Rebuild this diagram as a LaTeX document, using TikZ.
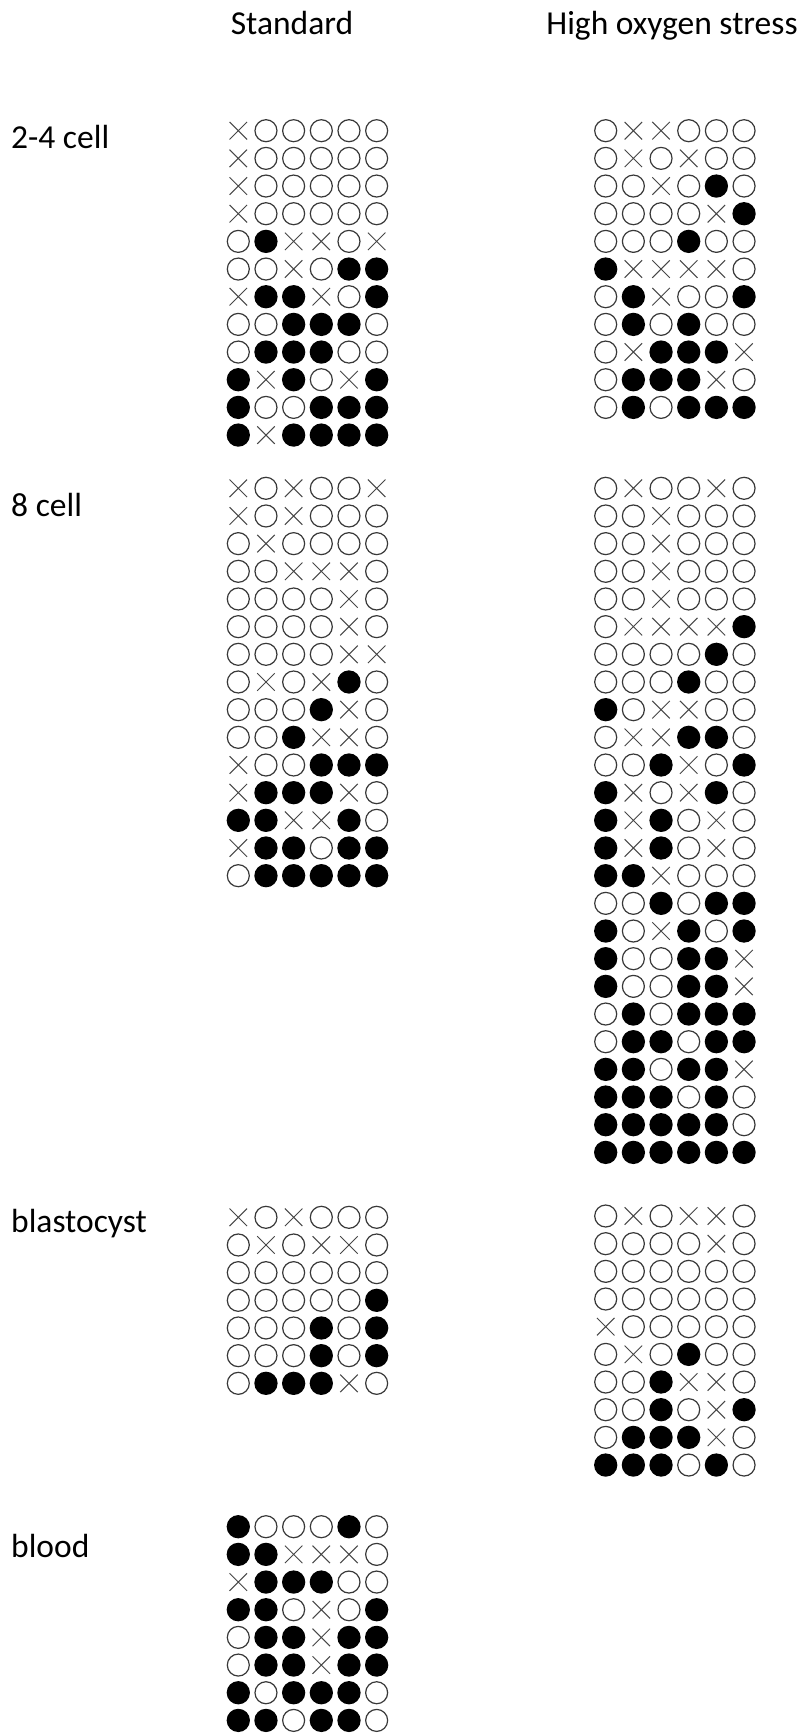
\documentclass[tikz,border=0pt]{standalone}
\usepackage{fontspec}
\setmainfont{Carlito}
\usetikzlibrary{shapes.misc}
\newcommand\symgrid[4]{%
  \foreach \rw [count=\ri] in {#4} {
    \foreach \c [count=\ki] in \rw {
      \node[c\c] (#1-\ri-\ki) at ({#2+(\ki-1)*27.67},{#3+(\ri-1)*27.67}) {};
    }
  }
}
\begin{document}
\begin{tikzpicture}[x=1pt,y=-1pt,
  co/.style={circle,draw=black!78,line width=1.2pt,minimum size=22pt,inner sep=0pt},
  cf/.style={circle,fill=black,minimum size=23.3pt,inner sep=0pt},
  cx/.style={cross out,draw=black!72,line width=1pt,minimum size=16.5pt,inner sep=0pt},
  lbl/.style={font=\fontsize{33.5}{40}\selectfont,inner sep=0pt}]
\useasboundingbox[fill=white] (0,0) rectangle (800,1734);
\node[lbl,anchor=base] (hstd) at (292,35) {Standard};
\node[lbl,anchor=base] (hhos) at (672,35) {High oxygen stress};
\node[lbl,anchor=base west] (l24) at (11,148.3) {2-4 cell};
\node[lbl,anchor=base west] (l8) at (11,516.7) {8 cell};
\node[lbl,anchor=base west] (lbc) at (11,1232.3) {blastocyst};
\node[lbl,anchor=base west] (lbd) at (11,1557.3) {blood};
\symgrid{a}{238.3}{130.7}{{x,o,o,o,o,o},{x,o,o,o,o,o},{x,o,o,o,o,o},{x,o,o,o,o,o},{o,f,x,x,o,x},{o,o,x,o,f,f},{x,f,f,x,o,f},{o,o,f,f,f,o},{o,f,f,f,o,o},{f,x,f,o,x,f},{f,o,o,f,f,f},{f,x,f,f,f,f}}
\symgrid{b}{605.7}{130.7}{{o,x,x,o,o,o},{o,x,o,x,o,o},{o,o,x,o,f,o},{o,o,o,o,x,f},{o,o,o,f,o,o},{f,x,x,x,x,o},{o,f,x,o,o,f},{o,f,o,f,o,o},{o,x,f,f,f,x},{o,f,f,f,x,o},{o,f,o,f,f,f}}
\symgrid{c}{238.3}{488.3}{{x,o,x,o,o,x},{x,o,x,o,o,o},{o,x,o,o,o,o},{o,o,x,x,x,o},{o,o,o,o,x,o},{o,o,o,o,x,o},{o,o,o,o,x,x},{o,x,o,x,f,o},{o,o,o,f,x,o},{o,o,f,x,x,o},{x,o,o,f,f,f},{x,f,f,f,x,o},{f,f,x,x,f,o},{x,f,f,o,f,f},{o,f,f,f,f,f}}
\symgrid{d}{605.7}{488.3}{{o,x,o,o,x,o},{o,o,x,o,o,o},{o,o,x,o,o,o},{o,o,x,o,o,o},{o,o,x,o,o,o},{o,x,x,x,x,f},{o,o,o,o,f,o},{o,o,o,f,o,o},{f,o,x,x,o,o},{o,x,x,f,f,o},{o,o,f,x,o,f},{f,x,o,x,f,o},{f,x,f,o,x,o},{f,x,f,o,x,o},{f,f,x,o,o,o},{o,o,f,o,f,f},{f,o,x,f,o,f},{f,o,o,f,f,x},{f,o,o,f,f,x},{o,f,o,f,f,f},{o,f,f,o,f,f},{f,f,o,f,f,x},{f,f,f,o,f,o},{f,f,f,f,f,o},{f,f,f,f,f,f}}
\symgrid{e}{238.3}{1217.3}{{x,o,x,o,o,o},{o,x,o,x,x,o},{o,o,o,o,o,o},{o,o,o,o,o,f},{o,o,o,f,o,f},{o,o,o,f,o,f},{o,f,f,f,x,o}}
\symgrid{g}{605.7}{1216}{{o,x,o,x,x,o},{o,o,o,o,x,o},{o,o,o,o,o,o},{o,o,o,o,o,o},{x,o,o,o,o,o},{o,x,o,f,o,o},{o,o,f,x,x,o},{o,o,f,o,x,f},{o,f,f,f,x,o},{f,f,f,o,f,o}}
\symgrid{h}{238.3}{1526.7}{{f,o,o,o,f,o},{f,f,x,x,x,o},{x,f,f,f,o,o},{f,f,o,x,o,f},{o,f,f,x,f,f},{o,f,f,x,f,f},{f,o,f,f,f,o},{f,f,o,f,f,o}}
\end{tikzpicture}
\end{document}
